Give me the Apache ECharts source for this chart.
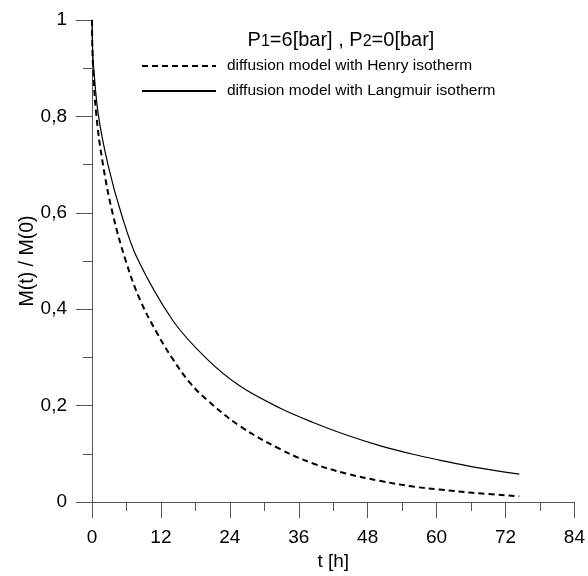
<!DOCTYPE html>
<html><head><meta charset="utf-8">
<script src="https://cdn.jsdelivr.net/npm/echarts@6/dist/echarts.min.js"></script>
<style>html,body{margin:0;padding:0;background:#fff}#c{width:588px;height:576px}</style>
</head><body><div id="c"></div>
<script>
var xTicks = [0, 12, 24, 36, 48, 60, 72, 84];
var henryT = [0, 0.05, 0.2, 0.75, 1.91, 3.65, 5.97, 8.35, 11.25, 14.1, 17.0, 19.9, 25.7, 32.7, 38.5, 44.3, 50.1, 55.9, 60.5, 66.3, 74.4];
var henryV = [1, 0.95, 0.9, 0.803, 0.70, 0.596, 0.497, 0.42, 0.352, 0.296, 0.248, 0.213, 0.158, 0.110, 0.080, 0.059, 0.044, 0.032, 0.026, 0.019, 0.012];
var langT = [0, 0.07, 0.3, 1.1, 2.78, 5.1, 7.9, 14.1, 19.9, 25.7, 32.7, 38.5, 44.3, 50.1, 55.9, 60.5, 66.3, 74.4];
var langV = [1, 0.95, 0.9, 0.803, 0.70, 0.598, 0.505, 0.376, 0.298, 0.241, 0.195, 0.165, 0.139, 0.117, 0.099, 0.087, 0.073, 0.058];
var seriesNames = ['diffusion model with Henry isotherm', 'diffusion model with Langmuir isotherm'];

function zip(a, b) { return a.map(function (t, i) { return [t, b[i]]; }); }
var font = 'Liberation Sans, Arial, sans-serif';
var chart = echarts.init(document.getElementById('c'));
chart.setOption({
  animation: false,
  backgroundColor: '#fff',
  title: {
    text: '{a|P}{s|1}{a|=6[bar] , P}{s|2}{a|=0[bar]}',
    left: 341, top: 28, padding: 0, textAlign: 'center',
    textStyle: {
      fontWeight: 'normal',
      rich: {
        a: { fontFamily: font, fontSize: 20, fontWeight: 'normal', color: '#000', verticalAlign: 'bottom', lineHeight: 22 },
        s: { fontFamily: font, fontSize: 16, fontWeight: 'normal', color: '#000', verticalAlign: 'bottom', lineHeight: 18, padding: [5, 0, 0, 0] }
      }
    }
  },
  legend: {
    orient: 'vertical', left: 141, top: 58, padding: 0, itemWidth: 74, itemHeight: 14, itemGap: 9,
    data: seriesNames,
    itemStyle: { opacity: 0, borderWidth: 0 },
    textStyle: { fontFamily: font, fontSize: 15.5, color: '#000', padding: [0, 0, 0, 6] }
  },
  grid: { left: 92, right: 13, top: 20, bottom: 73 },
  xAxis: {
    type: 'value', min: 0, max: 84, interval: 12,
    name: 't [h]', nameLocation: 'middle', nameGap: 50, nameMoveOverlap: false,
    nameTextStyle: { fontFamily: font, fontSize: 19, color: '#000' },
    axisLine: { lineStyle: { color: '#555', width: 1 } },
    axisTick: { show: true, inside: false, length: 16, lineStyle: { color: '#555' } },
    minorTick: { show: true, splitNumber: 2, length: 9, lineStyle: { color: '#555' } },
    axisLabel: { margin: 26, fontFamily: font, fontSize: 19, color: '#000',
      formatter: function (v) { return xTicks.indexOf(v) >= 0 ? String(v) : ''; } },
    splitLine: { show: false }
  },
  yAxis: {
    type: 'value', min: 0, max: 1, interval: 0.2,
    name: 'M(t) / M(0)', nameLocation: 'middle', nameGap: 54, nameRotate: 90, nameMoveOverlap: false,
    nameTextStyle: { fontFamily: font, fontSize: 19.5, color: '#000' },
    axisLine: { show: true, lineStyle: { color: '#555', width: 1 } },
    axisTick: { show: true, inside: false, length: 16, lineStyle: { color: '#555' } },
    minorTick: { show: true, splitNumber: 2, length: 9, lineStyle: { color: '#555' } },
    axisLabel: { margin: 25, fontFamily: font, fontSize: 19, color: '#000',
      formatter: function (v) { return String(Math.round(v * 10) / 10).replace('.', ','); } },
    splitLine: { show: false }
  },
  series: [
    { name: seriesNames[0], type: 'line', data: zip(henryT, henryV), symbol: 'none', showSymbol: false,
      smooth: 0.4,
      lineStyle: { color: '#000', width: 2, type: [6, 4] }, itemStyle: { color: '#000' } },
    { name: seriesNames[1], type: 'line', data: zip(langT, langV), symbol: 'none', showSymbol: false,
      smooth: 0.35,
      lineStyle: { color: '#000', width: 1.2, type: 'solid' }, itemStyle: { color: '#000' } }
  ]
});
</script></body></html>
